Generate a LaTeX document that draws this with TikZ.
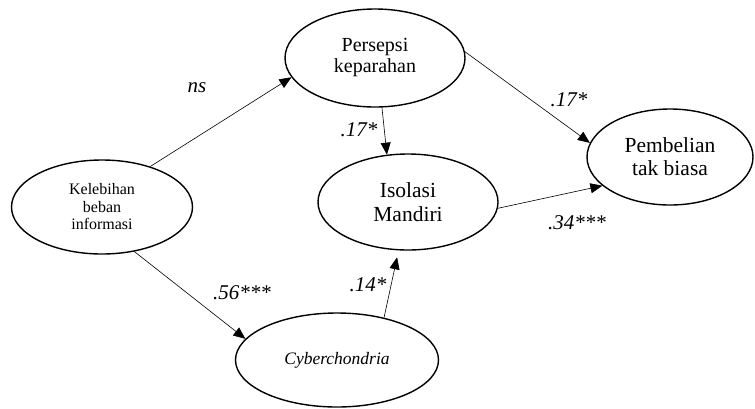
\documentclass[tikz,border=0pt]{standalone}
\usepackage{fontspec}
\setmainfont{Liberation Serif}
\usetikzlibrary{shapes.geometric,arrows.meta}
\begin{document}
\begin{tikzpicture}[x=1pt,y=-1pt,
  var/.style={draw,ellipse,line width=1.4pt,inner sep=0pt,align=center},
  arr/.style={-{Triangle[length=12pt,width=10pt]},line width=0.6pt},
  lab/.style={font=\itshape\fontsize{21}{24}\selectfont,inner sep=0pt}]
\useasboundingbox(0,0)rectangle(755,408);
% variables
\node[var,minimum width=181pt,minimum height=94pt,font=\fontsize{16}{17.5}\selectfont](kel)at(102,207){Kelebihan\\beban\\informasi};
\node[var,minimum width=180pt,minimum height=98pt,font=\fontsize{20}{21}\selectfont](per)at(375,58){Persepsi\\keparahan};
\node[var,minimum width=180pt,minimum height=96pt,font=\fontsize{21.5}{24}\selectfont](iso)at(408,202){Isolasi\\Mandiri};
\node[var,minimum width=166pt,minimum height=96pt,font=\fontsize{21.5}{23}\selectfont](pem)at(670,157){Pembelian\\tak biasa};
\node[var,minimum width=203pt,minimum height=94pt,font=\itshape\fontsize{17.5}{18}\selectfont](cyb)at(337,360){Cyberchondria};
% paths
\draw[arr](kel.40)--(per.193);
\draw[arr](kel.-54)--(cyb.167);
\draw[arr](per.-82)--(iso.114);
\draw[arr](per.4)--(pem.170);
\draw[arr](iso.-4)--(pem.203);
\draw[arr,shorten >=7pt](cyb.42)--(iso.-101);
% coefficients
\node[lab](ns)at(197,88){ns};
\node[lab](b1)at(359,130){.17*};
\node[lab](b2)at(569,100){.17*};
\node[lab](b3)at(577,223){.34***};
\node[lab](b4)at(242,293){.56***};
\node[lab](b5)at(368,285){.14*};
\end{tikzpicture}
\end{document}
